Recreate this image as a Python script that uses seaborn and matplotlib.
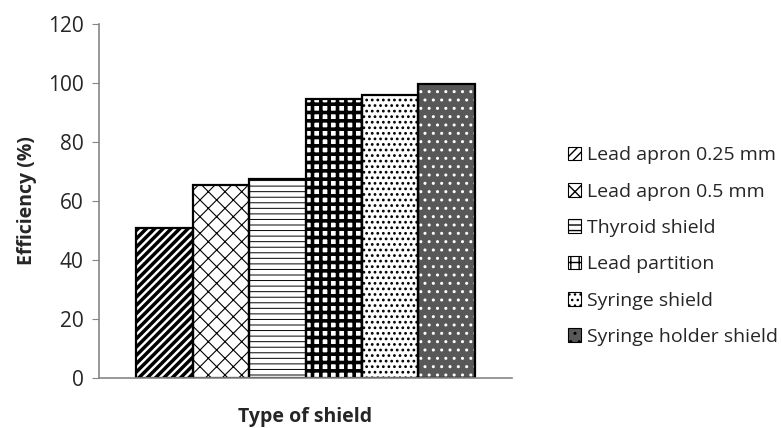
import seaborn as sns
import matplotlib.pyplot as plt
from matplotlib.patches import Patch

# data
shields = ['Lead apron 0.25 mm', 'Lead apron 0.5 mm', 'Thyroid shield',
           'Lead partition', 'Syringe shield', 'Syringe holder shield']
efficiency = [51.0, 65.3, 67.3, 94.5, 95.8, 99.7]
group = [''] * len(shields)

hatches = ['////', 'xx', '---', '++', '...', '..']
faces = ['white', 'white', 'white', 'white', 'white', '#585858']
hatch_cols = ['black', 'black', 'black', 'black', 'black', 'white']
hatch_lw = [2.5, 0.8, 0.7, 2.6, 1.2, 1.0]

sns.set_style('white')
plt.rcParams['font.family'] = ['Open Sans', 'DejaVu Sans']

fig = plt.figure(figsize=(7.81, 4.28), dpi=100)
ax = fig.add_axes([0.1268, 0.1168, 0.5288, 0.8272])

sns.barplot(x=group, y=efficiency, hue=shields, hue_order=shields,
            width=0.82, ax=ax, legend=False, errorbar=None)
for p, h, fc, hc, lw in zip(ax.patches, hatches, faces, hatch_cols, hatch_lw):
    p.set_facecolor(fc)
    p.set_edgecolor(hc)
    p.set_hatch(h)
    if hasattr(p, 'set_hatch_linewidth'):
        p.set_hatch_linewidth(lw)
    p.set_linewidth(0)

# outline on top
sns.barplot(x=group, y=efficiency, hue=shields, hue_order=shields,
            width=0.82, ax=ax, legend=False, errorbar=None,
            fill=False, palette=['black'] * 6, linewidth=1.6)

ax.set_ylim(0, 120)
ax.set_yticks(range(0, 121, 20))
ax.set_xlim(-0.5, 0.5)
ax.set_xticks([])
ax.tick_params(axis='y', left=True, length=5, color='#868686', labelsize=15, pad=6)
for s in ['top', 'right']:
    ax.spines[s].set_visible(False)
for s in ['left', 'bottom']:
    ax.spines[s].set_color('#868686')
    ax.spines[s].set_linewidth(1.2)

ax.set_ylabel('Efficiency (%)', fontsize=14, fontweight='bold', labelpad=8)
ax.set_xlabel('Type of shield', fontsize=14, fontweight='bold', labelpad=21)

handles = []
for h, fc, hc in zip(hatches, faces, hatch_cols):
    handles.append(Patch(facecolor=fc, edgecolor=hc, hatch=h, linewidth=0.8))
leg = fig.legend(handles, shields, loc='center left', bbox_to_anchor=(0.727, 0.425),
                 frameon=False, fontsize=14, handlelength=0.7, handleheight=0.7,
                 handletextpad=0.3, labelspacing=0.94, borderpad=0, borderaxespad=0)
for hp in leg.get_patches():
    hp.set_edgecolor('black')

fig.savefig('out.png', dpi=100)
